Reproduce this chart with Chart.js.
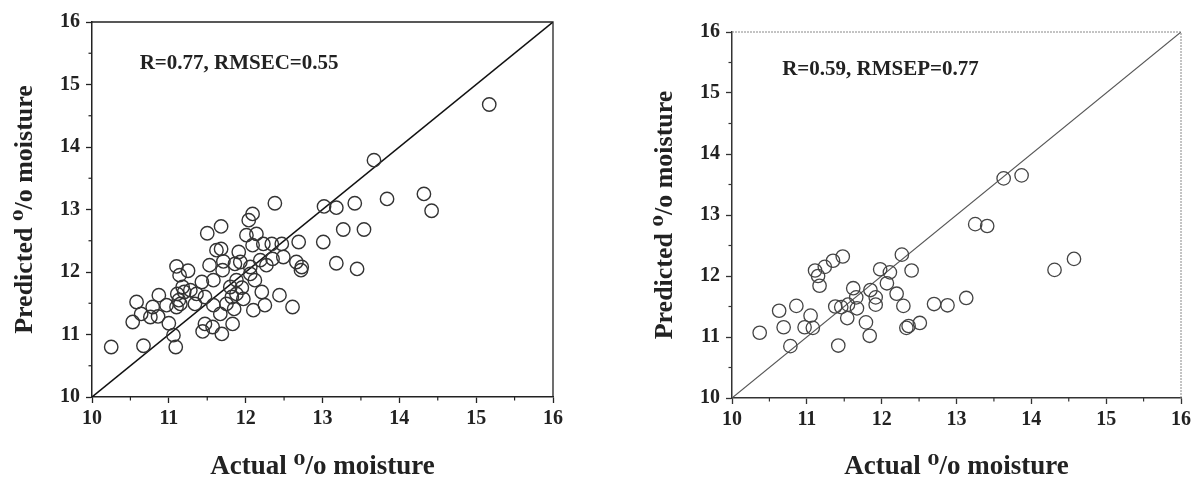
<!DOCTYPE html>
<html><head><meta charset="utf-8">
<script src="https://cdn.jsdelivr.net/npm/chart.js@4.4.1/dist/chart.umd.min.js"></script>
<style>
html,body{margin:0;padding:0;background:#fff;width:1195px;height:478px;overflow:hidden;}
#c1{position:absolute;left:0;top:0;}
#c2{position:absolute;left:600px;top:0;}
</style></head><body>
<canvas id="c1" width="600" height="478"></canvas>
<canvas id="c2" width="595" height="478"></canvas>
<script>
// ---- data ----
const axisMin = 10, axisMax = 16;
const minorTicks = [10.5, 11.5, 12.5, 13.5, 14.5, 15.5];
const identityLine = [10, 16];

const calActual = [10.25,10.67,11.09,11.06,11.00,10.53,10.64,10.58,10.76,10.87,10.86,10.79,10.97,11.10,11.13,11.11,11.20,11.18,11.10,11.14,
  11.25,11.43,11.47,11.36,11.58,11.53,11.50,11.68,11.62,11.68,11.71,11.70,11.58,11.67,11.47,11.44,11.57,11.69,11.83,11.85,
  11.82,11.75,11.91,11.93,11.95,11.97,12.12,12.10,12.25,12.21,12.44,12.61,12.09,12.04,12.01,12.14,12.09,12.23,12.34,12.47,
  12.38,12.69,13.01,12.35,12.49,12.27,12.66,12.73,12.72,12.19,12.06,11.88,11.80,13.18,13.45,13.27,13.54,13.02,13.18,13.42,
  13.84,14.32,14.42,13.67,15.17,11.34,11.28,11.15,11.88,12.06,11.86];
const calPredicted = [10.80,10.82,10.80,10.99,11.18,11.20,11.33,11.52,11.28,11.63,11.29,11.44,11.47,11.44,11.55,11.65,11.68,11.76,12.09,11.95,
  12.02,11.84,11.60,11.65,11.87,12.11,12.62,12.73,12.35,12.37,12.17,12.03,11.47,11.33,11.17,11.05,11.12,11.01,11.17,11.41,
  11.60,11.49,12.32,12.16,11.75,11.57,11.87,11.39,11.47,11.68,11.63,11.44,12.93,12.83,12.59,12.61,12.43,12.45,12.45,12.45,
  13.10,12.48,12.48,12.21,12.24,12.11,12.16,12.08,12.03,12.19,11.97,11.87,11.76,12.14,12.05,12.68,12.68,13.05,13.03,13.10,
  13.17,13.25,12.98,13.79,14.68,11.49,11.71,11.49,11.65,12.08,12.13];

const valActual = [10.37,10.63,10.69,10.78,10.86,10.97,11.05,11.08,11.11,11.15,11.17,11.24,11.35,11.48,11.38,11.46,11.42,11.54,11.62,11.67,
  11.66,11.79,11.84,11.85,11.92,11.92,11.98,12.11,12.07,12.20,12.29,12.27,12.40,12.36,12.33,12.51,12.70,12.88,13.13,13.25,
  13.41,13.63,13.87,14.31,14.57,11.55];
const valPredicted = [11.07,11.43,11.16,10.85,11.51,11.16,11.35,11.15,12.09,12.00,11.84,12.15,12.25,12.32,11.50,11.49,10.86,11.31,11.80,11.47,
  11.65,11.24,11.02,11.77,11.65,11.53,12.11,12.06,11.88,11.71,11.51,12.35,12.09,11.18,11.15,11.23,11.54,11.52,11.64,12.85,
  12.82,13.60,13.65,12.10,12.28,11.53];

const calLabel = 'R=0.77, RMSEC=0.55';
const valLabel = 'R=0.59, RMSEP=0.77';
const calLabelAt = [10.62, 15.34];
const valLabelAt = [10.67, 15.38];
const xTitle = 'Actual \u2070/o moisture';
const yTitle = 'Predicted \u2070/o moisture';

// ---- drawing ----
const FONT = "'Liberation Serif','DejaVu Serif','Times New Roman',serif";

function toPoints(xs, ys){ return xs.map((v,i)=>({x:v, y:ys[i]})); }

function decoPlugin(c){
  return {
    id: 'deco',
    afterDraw(chart){
      const {ctx, chartArea:a, scales:{x, y}} = chart;
      ctx.save();
      ctx.strokeStyle = c.frameColor; ctx.lineWidth = c.frameWidth; ctx.setLineDash(c.frameDash);
      ctx.beginPath(); ctx.moveTo(a.left, a.top); ctx.lineTo(a.right, a.top); ctx.lineTo(a.right, a.bottom); ctx.stroke();
      ctx.setLineDash([]);
      ctx.strokeStyle = c.axisColor; ctx.lineWidth = 1.2;
      minorTicks.forEach(v => {
        const px = x.getPixelForValue(v);
        ctx.beginPath(); ctx.moveTo(px, a.bottom); ctx.lineTo(px, a.bottom + 3.5); ctx.stroke();
        const py = y.getPixelForValue(v);
        ctx.beginPath(); ctx.moveTo(a.left, py); ctx.lineTo(a.left - 3.5, py); ctx.stroke();
      });
      ctx.font = 'bold 21px ' + FONT; ctx.fillStyle = '#222';
      ctx.textBaseline = 'middle'; ctx.textAlign = 'left';
      ctx.fillText(c.label, x.getPixelForValue(c.labelAt[0]), y.getPixelForValue(c.labelAt[1]));
      ctx.restore();
    }
  };
}

function axis(which, c){
  return {
    type: 'linear', min: axisMin, max: axisMax,
    ticks: { stepSize: 1, autoSkip: false, maxRotation: 0, color: '#222',
      padding: which === 'x' ? 4 : 6,
      font: { family: FONT, size: 20, weight: 'bold' } },
    grid: { display: true, drawOnChartArea: false, drawTicks: true, tickLength: 6,
      tickColor: c.axisColor, tickWidth: 1.3 },
    border: { display: true, color: c.axisColor, width: 1.5 },
    title: { display: true, text: which === 'x' ? xTitle : yTitle, color: '#222',
      font: { family: FONT, size: which === 'x' ? 27 : 26, weight: 'bold', lineHeight: which === 'x' ? 0.8 : 1.2 },
      padding: which === 'x' ? { top: 0, bottom: 0 } : { top: 10, bottom: 0 } },
    afterFit(s){ if (which === 'x') s.height = c.xHeight; else s.width = 92; }
  };
}

function makeChart(id, xs, ys, c){
  return new Chart(document.getElementById(id), {
    type: 'scatter',
    data: { datasets: [
      { data: toPoints(xs, ys), pointStyle: 'circle', pointRadius: 6.7, pointHoverRadius: 6.7,
        pointBorderWidth: c.pointWidth, borderColor: c.pointColor, backgroundColor: 'rgba(0,0,0,0)' },
      { data: toPoints(identityLine, identityLine), showLine: true, pointRadius: 0,
        borderColor: c.lineColor, borderWidth: c.lineWidth, fill: false }
    ]},
    options: {
      responsive: false, animation: false, devicePixelRatio: 1,
      layout: { padding: c.padding },
      plugins: { legend: { display: false }, tooltip: { enabled: false } },
      scales: { x: axis('x', c), y: axis('y', c) }
    },
    plugins: [decoPlugin(c)]
  });
}

makeChart('c1', calActual, calPredicted, {
  padding: { left: 0, top: 22, right: 47, bottom: 0 }, xHeight: 81,
  axisColor: '#222', frameColor: '#222', frameWidth: 1.3, frameDash: [],
  pointColor: '#333', pointWidth: 1.4, lineColor: '#111', lineWidth: 1.5,
  label: calLabel, labelAt: calLabelAt
});
makeChart('c2', valActual, valPredicted, {
  padding: { left: 40, top: 32, right: 10, bottom: 0 }, xHeight: 80,
  axisColor: '#333', frameColor: '#888', frameWidth: 1, frameDash: [2, 1],
  pointColor: '#444', pointWidth: 1.3, lineColor: '#555', lineWidth: 1.1,
  label: valLabel, labelAt: valLabelAt
});
</script>
</body></html>
